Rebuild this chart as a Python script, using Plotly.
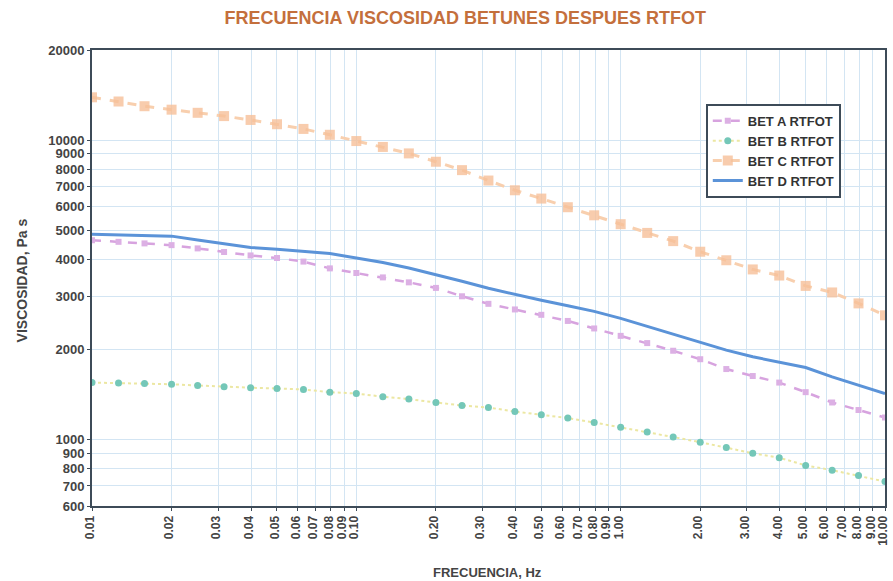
import plotly.graph_objects as go

# Frequencies (Hz), 10 points per decade from 0.01 to 10
frecuencia = [0.01, 0.0126, 0.0158, 0.02, 0.0251, 0.0316, 0.0398, 0.0501, 0.0631, 0.0794,
              0.1, 0.126, 0.158, 0.2, 0.251, 0.316, 0.398, 0.501, 0.631, 0.794,
              1.0, 1.26, 1.58, 2.0, 2.51, 3.16, 3.98, 5.01, 6.31, 7.94, 10.0]

# Viscosity (Pa s) for each bitumen after RTFOT
bet_a = [4630, 4575, 4520, 4460, 4350, 4230, 4120, 4040, 3930, 3730, 3600, 3480, 3350, 3210,
         3010, 2840, 2720, 2610, 2490, 2350, 2220, 2100, 1980, 1855, 1720, 1630, 1550, 1440,
         1330, 1255, 1185]
bet_b = [1550, 1545, 1540, 1530, 1516, 1500, 1490, 1481, 1470, 1440, 1425, 1390, 1365, 1330,
         1300, 1280, 1240, 1210, 1180, 1140, 1100, 1060, 1020, 980, 940, 900, 870, 820,
         790, 758, 724]
bet_c = [13900, 13460, 12980, 12640, 12340, 12030, 11680, 11300, 10900, 10420, 9930, 9490,
         9030, 8470, 7940, 7330, 6800, 6380, 5970, 5610, 5240, 4900, 4600, 4240, 3970, 3700,
         3530, 3260, 3100, 2850, 2600]
bet_d = [4850, 4820, 4790, 4780, 4640, 4510, 4380, 4320, 4250, 4180, 4040, 3900, 3740, 3560,
         3380, 3200, 3050, 2920, 2800, 2680, 2540, 2390, 2240, 2110, 1990, 1890, 1810, 1740,
         1620, 1520, 1425]

x_ticks = [0.01, 0.02, 0.03, 0.04, 0.05, 0.06, 0.07, 0.08, 0.09, 0.1,
           0.2, 0.3, 0.4, 0.5, 0.6, 0.7, 0.8, 0.9, 1, 2, 3, 4, 5, 6, 7, 8, 9, 10]
x_labels = ["0.01", "0.02", "0.03", "0.04", "0.05", "0.06", "0.07", "0.08", "0.09", "0.10",
            "0.20", "0.30", "0.40", "0.50", "0.60", "0.70", "0.80", "0.90", "1.00",
            "2.00", "3.00", "4.00", "5.00", "6.00", "7.00", "8.00", "9.00", "10.00"]
y_ticks = [600, 700, 800, 900, 1000, 2000, 3000, 4000, 5000, 6000, 7000, 8000, 9000,
           10000, 20000]
y_labels = [str(v) for v in y_ticks]

fig = go.Figure()
fig.add_trace(go.Scatter(
    x=frecuencia, y=bet_a, name="<b>BET A RTFOT</b>", mode="lines+markers",
    line=dict(color="#d7a3df", width=2.5, dash="dash"),
    marker=dict(symbol="square", size=6, color="#dcb0e4")))
fig.add_trace(go.Scatter(
    x=frecuencia, y=bet_b, name="<b>BET B RTFOT</b>", mode="lines+markers",
    line=dict(color="#ece7a2", width=2, dash="dot"),
    marker=dict(symbol="circle", size=7, color="#74c7b8")))
fig.add_trace(go.Scatter(
    x=frecuencia, y=bet_c, name="<b>BET C RTFOT</b>", mode="lines+markers",
    line=dict(color="#f8cfae", width=3, dash="dash"),
    marker=dict(symbol="square", size=10, color="#f6bf98", opacity=0.8)))
fig.add_trace(go.Scatter(
    x=frecuencia, y=bet_d, name="<b>BET D RTFOT</b>", mode="lines",
    line=dict(color="#5b93d8", width=3)))

axis_line = "#3d4b58"
grid = "#d3e5f3"

fig.update_layout(
    width=893, height=581,
    margin=dict(l=92, r=3, t=50, b=75),
    paper_bgcolor="white", plot_bgcolor="white",
    font=dict(family="Liberation Sans, Arial", color="#3a3a3a"),
    title=dict(text="<b>FRECUENCIA VISCOSIDAD BETUNES DESPUES RTFOT</b>",
               x=0.521, xanchor="center", y=0.969, yanchor="middle",
               font=dict(size=18, color="#c46f3c")),
    xaxis=dict(type="log", range=[-2, 1], tickvals=x_ticks,
               ticktext=["<b>%s</b>" % t for t in x_labels],
               tickangle=-90, tickfont=dict(size=12, color="#444"),
               ticklabeloverflow="allow", ticklabelshift=-2,
               showgrid=True, gridcolor=grid, gridwidth=1,
               showline=True, mirror=True, linecolor=axis_line, linewidth=2,
               ticks="outside", ticklen=3, tickcolor=axis_line, zeroline=False),
    yaxis=dict(type="log", range=[2.77815, 4.30103], tickvals=y_ticks,
               ticktext=["<b>%s</b>" % t for t in y_labels],
               tickfont=dict(size=13, color="#444"),
               showgrid=True, gridcolor=grid, gridwidth=1,
               showline=True, mirror=True, linecolor=axis_line, linewidth=2,
               ticks="outside", ticklen=3, tickcolor=axis_line, zeroline=False),
    legend=dict(x=0.774, y=0.882, xanchor="left", yanchor="top",
                bgcolor="white", bordercolor=axis_line, borderwidth=2,
                font=dict(size=13, color="#333"), tracegroupgap=0,
                itemwidth=30),
    showlegend=True,
)

fig.add_annotation(text="<b>FRECUENCIA, Hz</b>", xref="paper", yref="paper",
                   x=(490 - 92) / 798, y=-(572 - 506) / 456, showarrow=False,
                   font=dict(size=13, color="#444"), xanchor="center", yanchor="middle")
fig.add_annotation(text="<b>VISCOSIDAD, Pa s</b>", xref="paper", yref="paper",
                   x=-(92 - 22) / 798, y=(506 - 280) / 456, showarrow=False, textangle=-90,
                   font=dict(size=14, color="#444"), xanchor="center", yanchor="middle")

fig.write_html("out.html")
